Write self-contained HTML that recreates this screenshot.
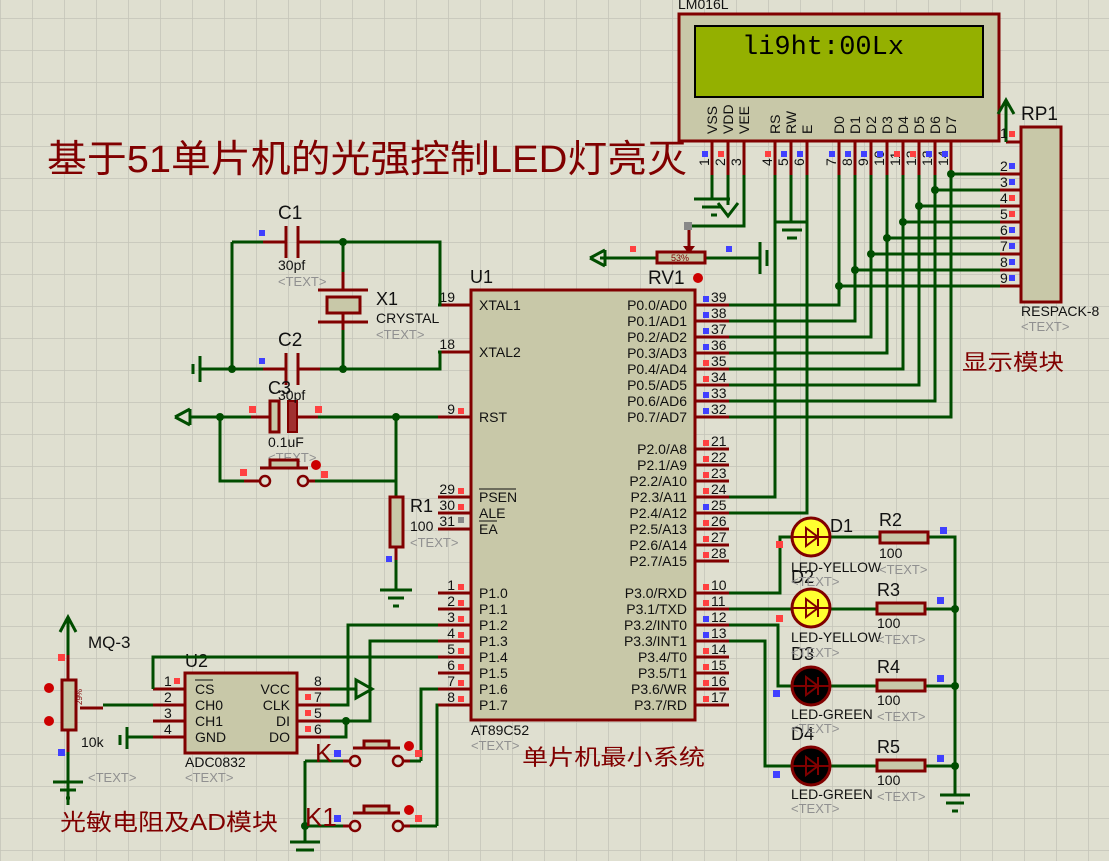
<!DOCTYPE html>
<html><head><meta charset="utf-8"><style>
html,body{margin:0;padding:0;background:#dfdfd0;}
svg{display:block;font-family:"Liberation Sans","Noto Sans CJK SC",sans-serif;}
.w{stroke:#004d00;stroke-width:3;fill:none}
.p{stroke:#800000;stroke-width:3;fill:none}
.b{fill:#c8c8a8;stroke:#800000;stroke-width:3}
.t{font-size:14px;fill:#111}
.g{font-size:13px;fill:#909090}
.n{font-size:14px;fill:#111}
.cn{font-family:"Liberation Sans","Noto Sans CJK SC",sans-serif;fill:#800000}
</style></head><body>
<svg width="1109" height="861" viewBox="0 0 1109 861" xmlns="http://www.w3.org/2000/svg">
<defs>
<pattern id="grid" x="0" y="18" width="32" height="32" patternUnits="userSpaceOnUse">
<path d="M0 0H32M0 0V32" stroke="#c4c4b8" stroke-width="1.5" fill="none"/>
</pattern>
</defs>
<rect width="1109" height="861" fill="#dfdfd0"/>
<rect width="1109" height="861" fill="url(#grid)"/>

<!-- Title -->
<text x="47" y="172" class="cn" font-size="38" textLength="640" lengthAdjust="spacingAndGlyphs">基于51单片机的光强控制LED灯亮灭</text>
<text x="962" y="370" class="cn" font-size="22" textLength="102" lengthAdjust="spacingAndGlyphs">显示模块</text>
<text x="522" y="765" class="cn" font-size="22" textLength="183" lengthAdjust="spacingAndGlyphs">单片机最小系统</text>
<text x="60" y="830" class="cn" font-size="23" textLength="218" lengthAdjust="spacingAndGlyphs">光敏电阻及AD模块</text>

<!-- LCD -->
<text x="678" y="9" class="t" font-size="13">LM016L</text>
<text x="680" y="24" class="g">&lt;TEXT&gt;</text>
<rect x="679" y="14" width="320" height="127" class="b"/>
<rect x="695" y="26" width="288" height="71" fill="#94b000" stroke="#000" stroke-width="2"/>
<text x="742" y="54" font-family="Liberation Mono,monospace" font-size="27" fill="#000">li9ht:00Lx</text>
<g class="t" font-size="13">
<text transform="translate(717,134) rotate(-90)">VSS</text>
<text transform="translate(733,134) rotate(-90)">VDD</text>
<text transform="translate(749,134) rotate(-90)">VEE</text>
<text transform="translate(780,134) rotate(-90)">RS</text>
<text transform="translate(796,134) rotate(-90)">RW</text>
<text transform="translate(812,134) rotate(-90)">E</text>
<text transform="translate(844,134) rotate(-90)">D0</text>
<text transform="translate(860,134) rotate(-90)">D1</text>
<text transform="translate(876,134) rotate(-90)">D2</text>
<text transform="translate(892,134) rotate(-90)">D3</text>
<text transform="translate(908,134) rotate(-90)">D4</text>
<text transform="translate(924,134) rotate(-90)">D5</text>
<text transform="translate(940,134) rotate(-90)">D6</text>
<text transform="translate(956,134) rotate(-90)">D7</text>
<text transform="translate(709,166) rotate(-90)">1</text>
<text transform="translate(725,166) rotate(-90)">2</text>
<text transform="translate(741,166) rotate(-90)">3</text>
<text transform="translate(772,166) rotate(-90)">4</text>
<text transform="translate(788,166) rotate(-90)">5</text>
<text transform="translate(804,166) rotate(-90)">6</text>
<text transform="translate(836,166) rotate(-90)">7</text>
<text transform="translate(852,166) rotate(-90)">8</text>
<text transform="translate(868,166) rotate(-90)">9</text>
<text transform="translate(884,166) rotate(-90)">10</text>
<text transform="translate(900,166) rotate(-90)">11</text>
<text transform="translate(916,166) rotate(-90)">12</text>
<text transform="translate(932,166) rotate(-90)">13</text>
<text transform="translate(948,166) rotate(-90)">14</text>
</g>
<path class="p" d="M712 141V175M728 141V175M744 141V175M775 141V175M791 141V175M807 141V175M839 141V175M855 141V175M871 141V175M887 141V175M903 141V175M919 141V175M935 141V175M951 141V175"/>
<!-- LCD wires -->
<path class="w" d="M712 175V199M694 199H730M702 207H722M711 215H717"/>
<path class="w" d="M728 175V205M718 203L728 216L738 203"/>
<path class="w" d="M744 175V226H689"/>
<path class="p" d="M689 226V248"/><path d="M683 246L689 254L695 246Z" fill="#800000"/>
<rect x="684" y="222" width="8" height="8" fill="#888"/>
<path class="w" d="M775 175V497H729M807 175V513H729M791 175V222M775 222H807M782 230H802M787 238H797"/>
<path class="w" d="M839 175V305H729M855 175V321H729M871 175V337H729M887 175V353H729M903 175V369H729M919 175V385H729M935 175V401H729M951 175V417H729"/>
<path class="w" d="M839 286H1000M855 270H1000M871 254H1000M887 238H1000M903 222H1000M919 206H1000M935 190H1000M951 174H1000"/>
<g fill="#004d00"><circle cx="839" cy="286" r="4"/><circle cx="855" cy="270" r="4"/><circle cx="871" cy="254" r="4"/><circle cx="887" cy="238" r="4"/><circle cx="903" cy="222" r="4"/><circle cx="919" cy="206" r="4"/><circle cx="935" cy="190" r="4"/><circle cx="951" cy="174" r="4"/></g>
<!-- RP1 -->
<rect x="1021" y="127" width="40" height="175" class="b"/>
<text x="1021" y="120" font-size="19" fill="#111">RP1</text>
<text x="1021" y="316" class="t" font-size="13">RESPACK-8</text>
<text x="1021" y="331" class="g">&lt;TEXT&gt;</text>
<path class="p" d="M1006 142H1021M1000 174H1021M1000 190H1021M1000 206H1021M1000 222H1021M1000 238H1021M1000 254H1021M1000 270H1021M1000 286H1021"/>
<path class="w" d="M1006 142V102M998 114L1006 100L1014 114"/>
<g class="n" font-size="13"><text x="1000" y="138">1</text><text x="1000" y="171">2</text><text x="1000" y="187">3</text><text x="1000" y="203">4</text><text x="1000" y="219">5</text><text x="1000" y="235">6</text><text x="1000" y="251">7</text><text x="1000" y="267">8</text><text x="1000" y="283">9</text></g>

<!-- RV1 -->
<path class="w" d="M600 258H657M706 258H760M760 242V274M767 250V266"/>
<path class="w" d="M590 258L605 250M590 258L605 266M605 250V266" />
<rect x="657" y="252" width="48" height="11" class="b"/>
<text x="671" y="261" font-size="9" fill="#800000">53%</text>
<text x="648" y="284" font-size="19" fill="#111">RV1</text>
<text x="648" y="302" class="t" font-size="13">10k</text>
<circle cx="698" cy="278" r="5" fill="#c00"/>

<!-- U1 -->
<rect x="471" y="290" width="224" height="430" class="b"/>
<text x="470" y="283" font-size="18" fill="#111">U1</text>
<text x="471" y="735" class="t" font-size="13">AT89C52</text>
<text x="471" y="750" class="g">&lt;TEXT&gt;</text>
<path class="p" d="M438 305H471M438 352H471M438 417H471M438 497H471M438 513H471M438 529H471M438 593H471M438 609H471M438 625H471M438 641H471M438 657H471M438 673H471M438 689H471M438 705H471"/>
<path class="p" d="M695 305H729M695 321H729M695 337H729M695 353H729M695 369H729M695 385H729M695 401H729M695 417H729M695 449H729M695 465H729M695 481H729M695 497H729M695 513H729M695 529H729M695 545H729M695 561H729M695 593H729M695 609H729M695 625H729M695 641H729M695 657H729M695 673H729M695 689H729M695 705H729"/>
<g class="t">
<text x="479" y="310">XTAL1</text><text x="479" y="357">XTAL2</text><text x="479" y="422">RST</text>
<text x="479" y="502">PSEN</text><text x="479" y="518">ALE</text><text x="479" y="534">EA</text>
<text x="479" y="598">P1.0</text><text x="479" y="614">P1.1</text><text x="479" y="630">P1.2</text><text x="479" y="646">P1.3</text><text x="479" y="662">P1.4</text><text x="479" y="678">P1.5</text><text x="479" y="694">P1.6</text><text x="479" y="710">P1.7</text>
</g>
<path d="M479 489H516M479 521H497" stroke="#111" stroke-width="1"/>
<g class="t" text-anchor="end">
<text x="687" y="310">P0.0/AD0</text><text x="687" y="326">P0.1/AD1</text><text x="687" y="342">P0.2/AD2</text><text x="687" y="358">P0.3/AD3</text><text x="687" y="374">P0.4/AD4</text><text x="687" y="390">P0.5/AD5</text><text x="687" y="406">P0.6/AD6</text><text x="687" y="422">P0.7/AD7</text>
<text x="687" y="454">P2.0/A8</text><text x="687" y="470">P2.1/A9</text><text x="687" y="486">P2.2/A10</text><text x="687" y="502">P2.3/A11</text><text x="687" y="518">P2.4/A12</text><text x="687" y="534">P2.5/A13</text><text x="687" y="550">P2.6/A14</text><text x="687" y="566">P2.7/A15</text>
<text x="687" y="598">P3.0/RXD</text><text x="687" y="614">P3.1/TXD</text><text x="687" y="630">P3.2/INT0</text><text x="687" y="646">P3.3/INT1</text><text x="687" y="662">P3.4/T0</text><text x="687" y="678">P3.5/T1</text><text x="687" y="694">P3.6/WR</text><text x="687" y="710">P3.7/RD</text>
</g>
<g class="n">
<text x="711" y="302">39</text><text x="711" y="318">38</text><text x="711" y="334">37</text><text x="711" y="350">36</text><text x="711" y="366">35</text><text x="711" y="382">34</text><text x="711" y="398">33</text><text x="711" y="414">32</text>
<text x="711" y="446">21</text><text x="711" y="462">22</text><text x="711" y="478">23</text><text x="711" y="494">24</text><text x="711" y="510">25</text><text x="711" y="526">26</text><text x="711" y="542">27</text><text x="711" y="558">28</text>
<text x="711" y="590">10</text><text x="711" y="606">11</text><text x="711" y="622">12</text><text x="711" y="638">13</text><text x="711" y="654">14</text><text x="711" y="670">15</text><text x="711" y="686">16</text><text x="711" y="702">17</text>
</g>
<g class="n" text-anchor="end">
<text x="455" y="302">19</text><text x="455" y="349">18</text><text x="455" y="414">9</text><text x="455" y="494">29</text><text x="455" y="510">30</text><text x="455" y="526">31</text>
<text x="455" y="590">1</text><text x="455" y="606">2</text><text x="455" y="622">3</text><text x="455" y="638">4</text><text x="455" y="654">5</text><text x="455" y="670">6</text><text x="455" y="686">7</text><text x="455" y="702">8</text>
</g>
<g fill="#ff4040">
<rect x="458" y="408" width="6" height="6"/><rect x="458" y="488" width="6" height="6"/><rect x="458" y="504" width="6" height="6"/>
<rect x="458" y="584" width="6" height="6"/><rect x="458" y="600" width="6" height="6"/><rect x="458" y="616" width="6" height="6"/><rect x="458" y="632" width="6" height="6"/><rect x="458" y="648" width="6" height="6"/><rect x="458" y="664" width="6" height="6"/><rect x="458" y="680" width="6" height="6"/><rect x="458" y="696" width="6" height="6"/>
<rect x="703" y="360" width="6" height="6"/><rect x="703" y="376" width="6" height="6"/>
<rect x="703" y="440" width="6" height="6"/><rect x="703" y="456" width="6" height="6"/><rect x="703" y="472" width="6" height="6"/><rect x="703" y="488" width="6" height="6"/><rect x="703" y="520" width="6" height="6"/><rect x="703" y="536" width="6" height="6"/><rect x="703" y="552" width="6" height="6"/>
<rect x="703" y="584" width="6" height="6"/><rect x="703" y="600" width="6" height="6"/><rect x="703" y="648" width="6" height="6"/><rect x="703" y="664" width="6" height="6"/><rect x="703" y="680" width="6" height="6"/><rect x="703" y="696" width="6" height="6"/>
<rect x="630" y="246" width="6" height="6"/><rect x="1009" y="131" width="6" height="6"/><rect x="1009" y="195" width="6" height="6"/><rect x="1009" y="211" width="6" height="6"/>
<rect x="765" y="151" width="6" height="6"/><rect x="718" y="151" width="6" height="6"/><rect x="894" y="151" width="6" height="6"/><rect x="910" y="151" width="6" height="6"/>
</g>
<g fill="#4040ff">
<rect x="703" y="296" width="6" height="6"/><rect x="703" y="312" width="6" height="6"/><rect x="703" y="328" width="6" height="6"/><rect x="703" y="344" width="6" height="6"/><rect x="703" y="392" width="6" height="6"/><rect x="703" y="408" width="6" height="6"/><rect x="703" y="504" width="6" height="6"/><rect x="703" y="616" width="6" height="6"/><rect x="703" y="632" width="6" height="6"/>
<rect x="726" y="246" width="6" height="6"/>
<rect x="1009" y="163" width="6" height="6"/><rect x="1009" y="179" width="6" height="6"/><rect x="1009" y="227" width="6" height="6"/><rect x="1009" y="243" width="6" height="6"/><rect x="1009" y="259" width="6" height="6"/><rect x="1009" y="275" width="6" height="6"/>
<rect x="702" y="151" width="6" height="6"/><rect x="781" y="151" width="6" height="6"/><rect x="797" y="151" width="6" height="6"/><rect x="829" y="151" width="6" height="6"/><rect x="845" y="151" width="6" height="6"/><rect x="861" y="151" width="6" height="6"/><rect x="877" y="151" width="6" height="6"/><rect x="926" y="151" width="6" height="6"/><rect x="942" y="151" width="6" height="6"/>
<rect x="259" y="230" width="6" height="6"/><rect x="259" y="358" width="6" height="6"/><rect x="386" y="556" width="6" height="6"/>
</g>
<rect x="458" y="517" width="6" height="6" fill="#888"/>

<!-- Crystal / caps -->
<path class="w" d="M232 242H263M320 242H440V305H438M232 242V369M200 369H263M320 369H440V352H438M343 242V272M343 330V369M200 356V382M193 364V374"/>
<path class="p" d="M263 242H286M298 242H320M286 226V258M298 226V258M263 369H286M298 369H320M286 353V385M298 353V385M343 272V290M343 314V330M318 290H368M318 322H368"/>
<rect x="327" y="297" width="33" height="16" class="b"/>
<g fill="#004d00"><circle cx="343" cy="242" r="4"/><circle cx="232" cy="369" r="4"/><circle cx="343" cy="369" r="4"/><circle cx="220" cy="417" r="4"/><circle cx="396" cy="417" r="4"/></g>
<text x="278" y="219" font-size="19" fill="#111">C1</text>
<text x="278" y="270" class="t" font-size="12">30pf</text><text x="278" y="286" class="g">&lt;TEXT&gt;</text>
<text x="278" y="346" font-size="19" fill="#111">C2</text>
<text x="376" y="305" font-size="18" fill="#111">X1</text>
<text x="376" y="323" class="t" font-size="12">CRYSTAL</text><text x="376" y="339" class="g">&lt;TEXT&gt;</text>
<!-- C3 RST -->
<path class="w" d="M190 417H251M318 417H438M220 417V481H244M315 481H396V417M396 481V497M396 547V590M380 590H412M388 598H404M393 606H399"/>
<path class="w" d="M175 417L190 409M175 417L190 425M190 409V425"/>
<path class="p" d="M251 417H270M298 417H318M244 481H260M303 481H315M396 547V560"/>
<rect x="270" y="401" width="9" height="31" class="b"/>
<rect x="288" y="401" width="9" height="31" fill="#a03030" stroke="#800000" stroke-width="2"/>
<text x="268" y="394" font-size="18" fill="#111">C3</text>
<text x="278" y="400" class="t" font-size="12">30pf</text>
<text x="268" y="447" class="t" font-size="12">0.1uF</text><text x="268" y="462" class="g">&lt;TEXT&gt;</text>
<circle cx="265" cy="481" r="5" fill="#dfdfd0" stroke="#800000" stroke-width="2.5"/>
<circle cx="303" cy="481" r="5" fill="#dfdfd0" stroke="#800000" stroke-width="2.5"/>
<path class="p" d="M260 468H308"/><rect x="270" y="460" width="28" height="8" class="b"/>
<circle cx="316" cy="465" r="5" fill="#c00"/>
<rect x="390" y="497" width="13" height="50" class="b"/>
<text x="410" y="512" font-size="18" fill="#111">R1</text>
<text x="410" y="531" class="t" font-size="12">100</text><text x="410" y="547" class="g">&lt;TEXT&gt;</text>
<g fill="#ff4040"><rect x="249" y="406" width="7" height="7"/><rect x="315" y="406" width="7" height="7"/><rect x="240" y="469" width="7" height="7"/><rect x="321" y="471" width="7" height="7"/></g>

<!-- ADC0832 -->
<rect x="185" y="673" width="112" height="80" class="b"/>
<text x="185" y="667" font-size="18" fill="#111">U2</text>
<text x="185" y="767" class="t" font-size="12">ADC0832</text><text x="185" y="782" class="g">&lt;TEXT&gt;</text>
<path class="p" d="M153 689H185M153 705H185M153 721H185M153 737H185M297 689H330M297 705H330M297 721H330M297 737H330"/>
<g class="t"><text x="195" y="694">CS</text><text x="195" y="710">CH0</text><text x="195" y="726">CH1</text><text x="195" y="742">GND</text></g>
<path d="M195 680H213" stroke="#111" stroke-width="1"/>
<g class="t" text-anchor="end"><text x="290" y="694">VCC</text><text x="290" y="710">CLK</text><text x="290" y="726">DI</text><text x="290" y="742">DO</text></g>
<g class="n"><text x="164" y="686">1</text><text x="164" y="702">2</text><text x="164" y="718">3</text><text x="164" y="734">4</text><text x="314" y="686">8</text><text x="314" y="702">7</text><text x="314" y="718">5</text><text x="314" y="734">6</text></g>
<path class="w" d="M153 689V657H438M330 689H356M330 705H348V625H438M330 721H370V641H438M330 737H346V721"/>
<path class="w" d="M356 680V698L372 689Z"/>
<circle cx="346" cy="721" r="4" fill="#004d00"/>
<!-- buttons K, K1 -->
<path class="w" d="M305 761V842M290 842H320M296 850H314M355 826H305M421 761V689H438M437 826V705H438"/>
<path class="w" d="M305 761H343M410 761H421M410 826H437"/>
<path class="p" d="M343 761H350M403 761H410M343 826H350M403 826H410M353 748H400M353 813H400"/>
<circle cx="355" cy="761" r="5" fill="#dfdfd0" stroke="#800000" stroke-width="2.5"/><circle cx="398" cy="761" r="5" fill="#dfdfd0" stroke="#800000" stroke-width="2.5"/>
<circle cx="355" cy="826" r="5" fill="#dfdfd0" stroke="#800000" stroke-width="2.5"/><circle cx="398" cy="826" r="5" fill="#dfdfd0" stroke="#800000" stroke-width="2.5"/>
<rect x="364" y="741" width="25" height="7" class="b"/><rect x="364" y="806" width="25" height="7" class="b"/>
<circle cx="409" cy="746" r="5" fill="#c00"/><circle cx="409" cy="810" r="5" fill="#c00"/>
<circle cx="305" cy="826" r="4" fill="#004d00"/>
<text x="315" y="762" font-size="26" fill="#800000">K</text>
<text x="305" y="826" font-size="26" fill="#800000">K1</text>
<g fill="#ff4040"><rect x="174" y="678" width="6" height="6"/><rect x="305" y="694" width="6" height="6"/><rect x="305" y="710" width="6" height="6"/><rect x="305" y="726" width="6" height="6"/><rect x="415" y="750" width="7" height="7"/><rect x="415" y="815" width="7" height="7"/><rect x="58" y="654" width="7" height="7"/></g>
<g fill="#4040ff"><rect x="334" y="750" width="7" height="7"/><rect x="334" y="815" width="7" height="7"/><rect x="58" y="749" width="7" height="7"/></g>

<!-- MQ-3 -->
<path class="w" d="M68 617V655M60 632L68 617L76 632M68 752V805M53 782H83M60 790H76M66 798H70M103 705H153M127 737H153M120 735V745M127 727V749"/>
<path class="p" d="M68 655V680M68 730V752M80 708H103"/>
<rect x="62" y="680" width="14" height="50" class="b"/>
<text x="73" y="714" font-size="8" fill="#800000" transform="rotate(-90 73 705)">29%</text>
<circle cx="49" cy="688" r="5" fill="#c00"/><circle cx="49" cy="721" r="5" fill="#c00"/>
<text x="88" y="648" font-size="17" fill="#111">MQ-3</text>
<text x="81" y="747" class="t" font-size="12">10k</text>
<text x="88" y="782" class="g">&lt;TEXT&gt;</text>

<!-- LEDs -->
<path class="w" d="M729 593H780V537H791M729 609H791M729 625H778V686H791M729 641H765V766H791"/>
<path class="w" d="M831 537H880M831 609H876M831 686H876M831 766H876M928 537H955V795M926 609H955M926 686H955M926 766H955M940 795H970M946 803H964M952 811H958"/>
<g fill="#004d00"><circle cx="955" cy="609" r="4"/><circle cx="955" cy="686" r="4"/><circle cx="955" cy="766" r="4"/></g>
<circle cx="811" cy="537" r="19" fill="#ffff30" stroke="#800000" stroke-width="3"/>
<circle cx="811" cy="608" r="19" fill="#ffff30" stroke="#800000" stroke-width="3"/>
<circle cx="811" cy="686" r="19" fill="#000" stroke="#800000" stroke-width="3"/>
<circle cx="811" cy="766" r="19" fill="#000" stroke="#800000" stroke-width="3"/>
<g stroke="#800000" stroke-width="2" fill="none">
<path d="M791 537H831M806 528V546L818 537ZM818 528V546"/>
<path d="M791 608H831M806 599V617L818 608ZM818 599V617"/>
<path d="M791 686H831M806 677V695L818 686ZM818 677V695"/>
<path d="M791 766H831M806 757V775L818 766ZM818 757V775"/>
</g>
<rect x="880" y="532" width="48" height="11" class="b"/><rect x="877" y="603" width="48" height="11" class="b"/>
<rect x="877" y="680" width="48" height="11" class="b"/><rect x="877" y="760" width="48" height="11" class="b"/>
<g font-size="18" fill="#111"><text x="830" y="532">D1</text><text x="791" y="583">D2</text><text x="791" y="660">D3</text><text x="791" y="740">D4</text>
<text x="879" y="526">R2</text><text x="877" y="596">R3</text><text x="877" y="673">R4</text><text x="877" y="753">R5</text></g>
<g class="t" font-size="12"><text x="791" y="572">LED-YELLOW</text><text x="791" y="642">LED-YELLOW</text><text x="791" y="719">LED-GREEN</text><text x="791" y="799">LED-GREEN</text>
<text x="879" y="558">100</text><text x="877" y="628">100</text><text x="877" y="705">100</text><text x="877" y="785">100</text></g>
<g class="g"><text x="791" y="586">&lt;TEXT&gt;</text><text x="791" y="657">&lt;TEXT&gt;</text><text x="791" y="733">&lt;TEXT&gt;</text><text x="791" y="813">&lt;TEXT&gt;</text>
<text x="879" y="574">&lt;TEXT&gt;</text><text x="877" y="644">&lt;TEXT&gt;</text><text x="877" y="721">&lt;TEXT&gt;</text><text x="877" y="801">&lt;TEXT&gt;</text></g>
<g fill="#ff4040"><rect x="776" y="541" width="7" height="7"/><rect x="776" y="615" width="7" height="7"/></g>
<g fill="#4040ff"><rect x="773" y="690" width="7" height="7"/><rect x="773" y="771" width="7" height="7"/><rect x="940" y="527" width="7" height="7"/><rect x="937" y="597" width="7" height="7"/><rect x="937" y="675" width="7" height="7"/><rect x="937" y="755" width="7" height="7"/></g>
</svg>
</body></html>
